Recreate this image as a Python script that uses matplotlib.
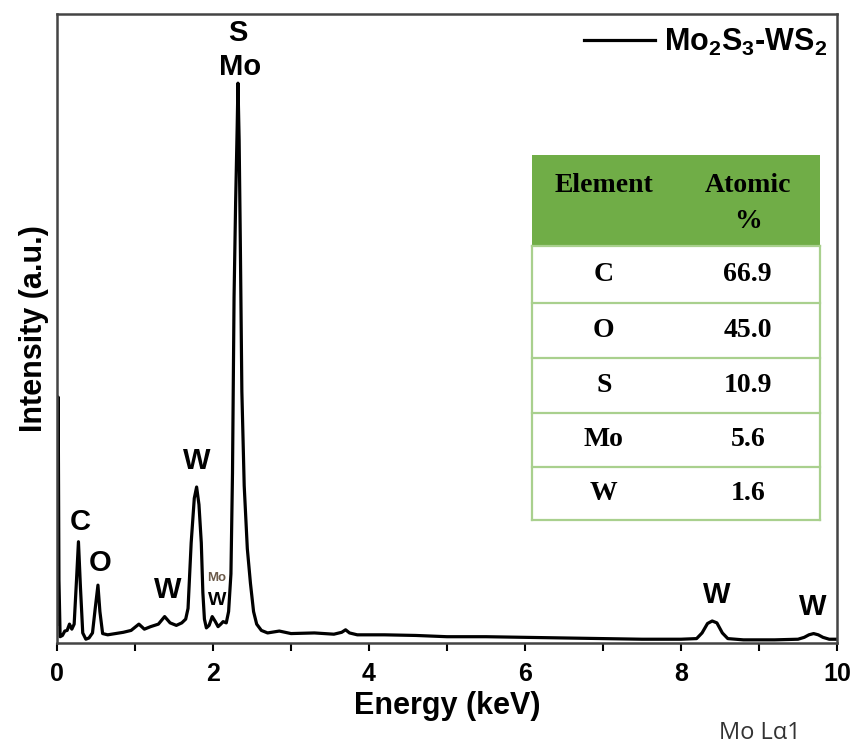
"""EDS spectrum of Mo2S3-WS2 with atomic % table."""
import matplotlib
matplotlib.use('Agg')
import matplotlib.pyplot as plt
from matplotlib.patches import Rectangle

plt.rcParams['font.family'] = ['Liberation Sans', 'DejaVu Sans']
plt.rcParams['mathtext.fontset'] = 'custom'
plt.rcParams['mathtext.rm'] = 'Liberation Sans:bold'
plt.rcParams['mathtext.default'] = 'rm'

# spectrum (keV, a.u.)
energy = [0.005, 0.015, 0.025, 0.04, 0.07, 0.10, 0.13, 0.16, 0.19, 0.22,
          0.25, 0.275, 0.30, 0.33, 0.37, 0.41, 0.455, 0.49, 0.525, 0.55,
          0.585, 0.65, 0.75, 0.85, 0.95, 1.05, 1.12, 1.2, 1.3, 1.38,
          1.45, 1.53, 1.6, 1.65, 1.68, 1.72, 1.76, 1.79, 1.82, 1.85,
          1.87, 1.89, 1.915, 1.95, 1.99, 2.03, 2.065, 2.10, 2.13, 2.17,
          2.20, 2.23, 2.25, 2.27, 2.29, 2.31, 2.32, 2.335, 2.35, 2.37,
          2.40, 2.44, 2.48, 2.52, 2.56, 2.62, 2.7, 2.85, 3.0, 3.3,
          3.55, 3.65, 3.7, 3.75, 3.85, 4.2, 4.6, 5.0, 5.5, 6.0,
          6.5, 7.0, 7.5, 8.0, 8.2, 8.27, 8.34, 8.40, 8.46, 8.53,
          8.6, 8.8, 9.2, 9.5, 9.58, 9.64, 9.7, 9.76, 9.82, 9.9, 10.0]
intensity = [3.0, 39.1, 10.0, 1.0, 1.2, 1.9, 2.0, 3.0, 2.2, 3.0,
             10.0, 16.1, 9.0, 1.6, 0.6, 0.8, 1.6, 5.5, 9.2, 5.0,
             1.5, 1.3, 1.5, 1.7, 2.0, 3.0, 2.2, 2.6, 3.0, 4.2,
             3.2, 2.8, 3.2, 3.8, 5.5, 15.9, 23.0, 24.8, 22.0, 15.9,
             8.0, 3.8, 2.4, 2.8, 4.2, 3.4, 2.6, 3.0, 3.4, 3.2,
             5.0, 11.0, 27.0, 55.0, 70.0, 82.0, 89.0, 80.0, 64.0, 40.0,
             25.0, 15.0, 9.5, 5.0, 3.0, 2.0, 1.6, 1.9, 1.5, 1.6,
             1.4, 1.7, 2.1, 1.6, 1.3, 1.3, 1.2, 1.0, 1.0, 0.9,
             0.8, 0.7, 0.6, 0.6, 0.7, 1.6, 3.1, 3.5, 3.2, 1.6,
             0.7, 0.5, 0.5, 0.6, 0.9, 1.3, 1.5, 1.3, 0.9, 0.6, 0.6]

elements = ['C', 'O', 'S', 'Mo', 'W']
atomic_pct = ['66.9', '45.0', '10.9', '5.6', '1.6']

fig = plt.figure(figsize=(8.57, 7.46), dpi=100)
ax = fig.add_axes([57 / 857, 1 - 643 / 746, 780 / 857, 629 / 746])

ax.plot(energy, intensity, color='black', lw=2.3, solid_joinstyle='round',
        label=r'Mo$_2$S$_3$-WS$_2$')
ax.set_xlim(0, 10)
ax.set_ylim(0, 100)
ax.set_yticks([])
ax.set_xticks([0, 2, 4, 6, 8, 10])
ax.set_xticks([1, 3, 5, 7, 9], minor=True)
ax.tick_params(axis='x', which='both', direction='out', length=6, width=1.5,
               labelsize=18, pad=8)
for lab in ax.get_xticklabels():
    lab.set_fontweight('bold')
for spine in ax.spines.values():
    spine.set_color('#444444')
    spine.set_linewidth(1.8)

ax.set_xlabel('Energy (keV)', fontsize=22, fontweight='bold', labelpad=3)
ax.set_ylabel('Intensity (a.u.)', fontsize=22, fontweight='bold', labelpad=6)

# peak labels
lab_kw = dict(ha='center', va='center', fontweight='bold', fontsize=21)
ax.text(2.32, 97.0, 'S', **lab_kw)
ax.text(2.35, 91.6, 'Mo', **lab_kw)
ax.text(0.295, 19.3, 'C', **lab_kw)
ax.text(0.55, 12.7, 'O', **lab_kw)
ax.text(1.42, 8.4, 'W', **lab_kw)
ax.text(1.79, 29.0, 'W', **lab_kw)
ax.text(8.46, 7.6, 'W', **lab_kw)
ax.text(9.69, 5.8, 'W', **lab_kw)
ax.text(2.05, 10.3, 'Mo', ha='center', va='center', fontsize=9.5,
        fontweight='bold', color='#6b5a4a')
ax.text(2.05, 6.8, 'W', ha='center', va='center', fontsize=14,
        fontweight='bold')

ax.legend(loc='upper right', bbox_to_anchor=(0.987, 0.98), frameon=False,
          handlelength=2.3, handletextpad=0.3,
          borderpad=0, borderaxespad=0, prop={'weight': 'bold', 'size': 22})

# atomic % table
tax = fig.add_axes([531.7 / 857, 1 - 520 / 746, 288.3 / 857, 365 / 746])
tax.set_xlim(0, 288.3)
tax.set_ylim(365, 0)
tax.axis('off')
tax.add_patch(Rectangle((0, 0), 288.3, 91, facecolor='#70AD47',
                        edgecolor='none'))
row_edges = [91, 147.7, 203.3, 258.3, 311.7, 365]
line_c = '#A9D08E'
for yb in row_edges:
    tax.plot([0, 288.3], [yb, yb], color=line_c, lw=1.6, clip_on=False)
for xb in [0, 288.3]:
    tax.plot([xb, xb], [91, 365], color=line_c, lw=1.6, clip_on=False)

tbl_kw = dict(ha='center', va='center', fontweight='bold', fontsize=20,
              family=['Liberation Serif', 'DejaVu Serif'])
tax.text(72, 30, 'Element', **tbl_kw)
tax.text(216, 30, 'Atomic', **tbl_kw)
tax.text(216, 66, '%', **tbl_kw)
for i, (el, pct) in enumerate(zip(elements, atomic_pct)):
    yc = (row_edges[i] + row_edges[i + 1]) / 2
    tax.text(72, yc, el, **tbl_kw)
    tax.text(216, yc, pct, **tbl_kw)

fig.text(760 / 857, 1 - 733 / 746, 'Mo L\u03b11', ha='center', va='center',
         fontsize=17, color='#333333', family=['Open Sans', 'DejaVu Sans'])

fig.savefig('out.png', dpi=100)
plt.close(fig)
